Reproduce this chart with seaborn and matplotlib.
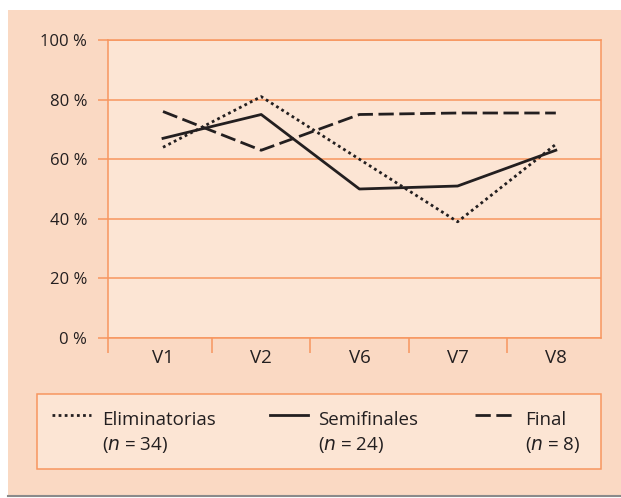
import pandas as pd
import numpy as np
import matplotlib
matplotlib.use("Agg")
import matplotlib.pyplot as plt
import seaborn as sns
from matplotlib.lines import Line2D
from matplotlib.patches import Rectangle

# -------------------------
# Data
# -------------------------
visitas = ["V1", "V2", "V6", "V7", "V8"]
eliminatorias = [64, 81, 60, 39, 65]
semifinales = [67, 75, 50, 51, 63]
final = [76, 63, 75, 75.5, 75.5]
grupos = ["Eliminatorias", "Semifinales", "Final"]
n_grupos = ["34", "24", "8"]
y_ticks = [0, 20, 40, 60, 80, 100]

df = pd.DataFrame({
    "visita": visitas * 3,
    "x": list(range(len(visitas))) * 3,
    "valor": eliminatorias + semifinales + final,
    "grupo": [g for g in grupos for _ in visitas],
})

# -------------------------
# Colours
# -------------------------
fig_bg = "#fad9c3"
ax_bg = "#fce5d4"
orange = "#f7965f"
ink = "#231f20"

plt.rcParams["font.family"] = ["Open Sans", "DejaVu Sans"]

fig = plt.figure(figsize=(6.21, 4.98), dpi=100, facecolor="white")
fig.patches.append(Rectangle((8 / 621, 0.004), 1, 1 - 10 / 498 - 0.004,
                             transform=fig.transFigure, facecolor=fig_bg,
                             edgecolor="none", zorder=-10))
fig.lines.append(Line2D([8 / 621, 1], [0.004, 0.004], transform=fig.transFigure,
                        color="#8a8a8a", lw=1.5))

ax = fig.add_axes([108 / 621, 1 - 338 / 498, (601 - 108) / 621, (338 - 40) / 498])
ax.set_facecolor(ax_bg)

dashes = {"Eliminatorias": (1, 1.2), "Semifinales": "", "Final": (5.5, 2)}
sns.lineplot(data=df, x="x", y="valor", style="grupo", dashes=dashes,
             color=ink, lw=2, legend=False, ax=ax, zorder=3)

ax.set_xlim(-0.56, 4.46)
ax.set_ylim(0, 100)
ax.set_xlabel("")
ax.set_ylabel("")

# y axis
ax.set_yticks(y_ticks)
ax.set_yticklabels([f"{v} %" for v in y_ticks])
ax.tick_params(axis="y", length=7, width=1.1, color=orange, pad=8,
               labelsize=12, labelcolor=ink)
ax.yaxis.grid(True, color=orange, lw=1.1)
ax.xaxis.grid(False)

# x axis: boundary ticks, labels at centres
ax.set_xticks([-0.56, 0.5, 1.5, 2.5, 3.5])
ax.set_xticklabels([])
ax.set_xticks(range(len(visitas)), minor=True)
ax.set_xticklabels(visitas, minor=True)
ax.tick_params(axis="x", which="major", length=11, width=1.1, color=orange)
ax.tick_params(axis="x", which="minor", length=0, pad=8, labelsize=13.5,
               labelcolor=ink)

for s in ax.spines.values():
    s.set_color(orange)
    s.set_linewidth(1.1)

# -------------------------
# Legend box
# -------------------------
def fx(px):
    return px / 621

def fy(py):
    return 1 - py / 498

fig.patches.append(Rectangle((fx(37), fy(469)), fx(601) - fx(37), fy(394) - fy(469),
                             transform=fig.transFigure, facecolor=ax_bg,
                             edgecolor=orange, lw=1.1))
handles_x = [(52, 91), (270, 308), (475, 514)]
texts_x = [102, 318, 525]
for (x0, x1), tx, g, n in zip(handles_x, texts_x, grupos, n_grupos):
    d = dashes[g]
    ln = Line2D([fx(x0), fx(x1)], [fy(415), fy(415)], transform=fig.transFigure,
                color=ink, lw=2)
    if d:
        ln.set_dashes(d)
    fig.lines.append(ln)
    fig.text(fx(tx), fy(425), g, fontsize=13.5, color=ink, va="baseline")
    fig.text(fx(tx), fy(450), f"($n$ = {n})", fontsize=13.5, color=ink, va="baseline")

fig.savefig("out.png", dpi=100, facecolor=fig.get_facecolor())
